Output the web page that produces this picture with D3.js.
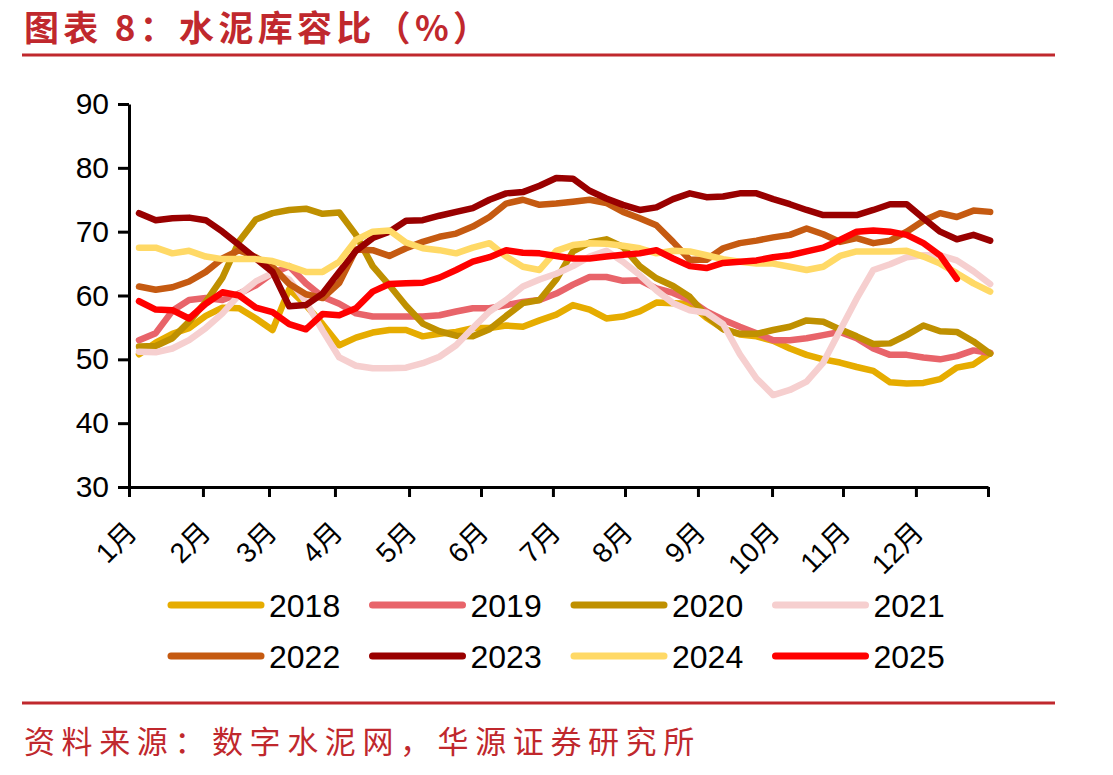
<!DOCTYPE html>
<html>
<head>
<meta charset="utf-8">
<script src="https://cdn.jsdelivr.net/npm/d3@7"></script>
<style>
  body { margin: 0; background: #fff; }
  svg { display: block; }
</style>
</head>
<body>
<svg id="chart" width="1113" height="775"></svg>
<script>
// weekly stock ratio, week 1 .. 52
const years = ["2018", "2019", "2020", "2021", "2022", "2023", "2024", "2025"]
const colors = ["#E6AC00", "#E8646A", "#BF9000", "#F6CFCF", "#C55A11", "#990000", "#FFD966", "#FF0000"]

const v2018 = [50.8, 52.6, 54.0, 54.9, 56.8, 58.1, 58.0, 56.4, 54.6, 61.0, 58.5, 55.5, 52.2, 53.4, 54.2, 54.6, 54.6, 53.6, 54.0, 54.3, 54.9, 54.9, 55.3, 55.1, 56.1, 57.0, 58.5, 57.8, 56.4, 56.7, 57.5, 58.9, 58.8, 58.7, 56.5, 54.8, 53.9, 53.6, 52.9, 51.7, 50.7, 50.0, 49.5, 48.8, 48.2, 46.4, 46.2, 46.3, 46.9, 48.7, 49.2, 51.0]
const v2019 = [53.0, 54.1, 57.6, 59.3, 59.6, 59.3, 60.3, 61.6, 63.5, 64.6, 61.9, 59.8, 58.7, 57.2, 56.7, 56.7, 56.7, 56.7, 56.9, 57.5, 58.0, 58.0, 58.5, 59.0, 59.3, 60.3, 61.7, 62.9, 62.9, 62.3, 62.4, 61.1, 60.4, 59.3, 57.5, 56.2, 55.1, 54.1, 53.0, 53.0, 53.3, 53.8, 54.3, 53.3, 51.7, 50.7, 50.7, 50.3, 50.0, 50.5, 51.4, 51.0]
const v2020 = [52.0, 52.1, 53.3, 55.9, 59.0, 62.8, 68.5, 71.9, 72.9, 73.4, 73.6, 72.8, 73.0, 69.5, 64.6, 61.6, 58.4, 55.6, 54.4, 53.7, 53.6, 54.7, 56.8, 58.8, 59.3, 62.5, 66.9, 68.3, 68.8, 67.6, 64.6, 62.7, 61.5, 59.8, 56.8, 54.7, 54.0, 54.0, 54.6, 55.1, 56.1, 55.9, 54.7, 53.6, 52.4, 52.5, 53.8, 55.3, 54.4, 54.3, 52.8, 50.9]
const v2021 = [51.2, 51.1, 51.7, 53.0, 54.9, 57.2, 60.1, 62.2, 63.5, 62.5, 59.0, 54.5, 50.3, 49.0, 48.6, 48.6, 48.7, 49.4, 50.4, 52.2, 54.9, 57.5, 59.3, 61.4, 62.5, 63.4, 64.6, 66.1, 67.0, 65.3, 63.2, 60.8, 58.8, 57.7, 57.3, 55.5, 50.8, 47.0, 44.4, 45.2, 46.5, 49.5, 54.5, 59.5, 64.0, 64.9, 66.0, 66.3, 66.3, 65.5, 63.8, 61.8]
const v2022 = [61.4, 60.9, 61.3, 62.2, 63.7, 65.8, 67.1, 66.0, 64.5, 61.8, 60.2, 59.6, 62.0, 67.2, 67.1, 66.2, 67.4, 68.4, 69.2, 69.7, 70.8, 72.3, 74.4, 75.0, 74.2, 74.4, 74.7, 75.0, 74.5, 73.1, 72.1, 71.0, 68.4, 65.6, 65.6, 67.4, 68.2, 68.6, 69.1, 69.5, 70.5, 69.6, 68.4, 69.0, 68.2, 68.6, 70.0, 71.7, 72.9, 72.3, 73.3, 73.1]
const v2023 = [72.9, 71.8, 72.1, 72.2, 71.8, 70.0, 67.9, 65.8, 63.7, 58.3, 58.5, 60.3, 63.7, 67.0, 69.0, 70.0, 71.7, 71.8, 72.5, 73.1, 73.7, 75.0, 76.0, 76.2, 77.2, 78.4, 78.3, 76.4, 75.2, 74.2, 73.4, 73.8, 75.1, 76.0, 75.4, 75.5, 76.0, 76.0, 75.1, 74.3, 73.4, 72.6, 72.6, 72.6, 73.4, 74.3, 74.3, 72.1, 70.0, 68.8, 69.5, 68.6]
const v2024 = [67.5, 67.5, 66.6, 67.0, 66.1, 65.7, 65.7, 65.7, 65.4, 64.6, 63.7, 63.7, 65.3, 68.7, 70.0, 70.2, 68.3, 67.4, 67.1, 66.6, 67.5, 68.2, 66.1, 64.5, 64.0, 67.0, 67.9, 68.2, 68.1, 67.8, 67.4, 66.6, 67.0, 66.9, 66.3, 65.7, 65.3, 65.0, 65.0, 64.5, 64.0, 64.5, 66.2, 66.9, 66.9, 66.9, 67.0, 66.1, 65.0, 63.5, 61.9, 60.6]
const v2025 = [59.1, 57.8, 57.7, 56.4, 58.7, 60.5, 60.0, 58.1, 57.4, 55.5, 54.7, 57.1, 56.9, 58.0, 60.6, 61.8, 61.9, 62.0, 62.8, 64.0, 65.3, 66.0, 67.1, 66.7, 66.6, 66.2, 65.8, 65.8, 66.1, 66.4, 66.6, 67.1, 65.8, 64.6, 64.3, 65.1, 65.3, 65.5, 66.0, 66.3, 66.9, 67.5, 68.7, 70.0, 70.2, 70.0, 69.5, 68.2, 66.3, 62.6]

const seriesValues = [v2018, v2019, v2020, v2021, v2022, v2023, v2024, v2025]

// month boundaries, in weeks
const monthTicks = [-0.6, 3.83, 7.79, 11.74, 16.18, 20.49, 24.8, 29.12, 33.49, 37.93, 42.18, 46.55, 50.87]
const monthLabels = ["1月", "2月", "3月", "4月", "5月", "6月", "7月", "8月", "9月", "10月", "11月", "12月"]
const yTicks = [30, 40, 50, 60, 70, 80, 90]

const RED = "#C0282D"
const LATIN = "'Liberation Sans', Arial, 'Noto Sans CJK SC', sans-serif"
const CJK = "'Noto Sans CJK SC', sans-serif"

let svg = d3.select("#chart")

let x = d3.scaleLinear().domain([monthTicks[0], monthTicks[monthTicks.length - 1]]).range([129, 988]),
    y = d3.scaleLinear().domain([30, 90]).range([487, 104])

// title and rules
svg.append("text")
    .text("图表 8：水泥库容比（%）")
    .attr("x", 24)
    .attr("y", 41)
    .style("font-family", CJK)
    .style("font-size", "35px")
    .style("font-weight", "bold")
    .style("letter-spacing", "4.3px")
    .style("fill", RED)

svg.append("line")
    .attr("x1", 22).attr("x2", 1055)
    .attr("y1", 55).attr("y2", 55)
    .style("stroke", RED)
    .style("stroke-width", 3)

svg.append("line")
    .attr("x1", 22).attr("x2", 1055)
    .attr("y1", 703).attr("y2", 703)
    .style("stroke", RED)
    .style("stroke-width", 3)

svg.append("text")
    .text("资料来源：数字水泥网，华源证券研究所")
    .attr("x", 24)
    .attr("y", 753)
    .style("font-family", CJK)
    .style("font-size", "31px")
    .style("letter-spacing", "6.6px")
    .style("fill", RED)

// axes
let yAxis = svg.append("g")
    .attr("transform", `translate(${129}, 0)`)
    .call(d3.axisLeft(y).tickValues(yTicks).tickSize(11).tickSizeOuter(0).tickPadding(9))

let xAxis = svg.append("g")
    .attr("transform", `translate(0, ${487})`)
    .call(d3.axisBottom(x).tickValues(monthTicks).tickSize(10).tickSizeOuter(0)
        .tickFormat((d, i) => monthLabels[i] || ""))

svg.selectAll(".domain, .tick line")
    .style("stroke", "#000")
    .style("stroke-width", 3)

yAxis.selectAll(".tick text")
    .style("font-family", LATIN)
    .style("font-size", "30px")
    .style("fill", "#000")

xAxis.selectAll(".tick text")
    .attr("text-anchor", "end")
    .attr("transform", "translate(2, 40) rotate(-45)")
    .attr("y", 0)
    .attr("dy", "0.35em")
    .style("font-family", LATIN)
    .style("font-size", "28px")
    .style("fill", "#000")

// series
let line = d3.line()
    .x((d, i) => x(i))
    .y(d => y(d))

svg.append("g")
    .selectAll("path")
    .data(seriesValues)
    .join("path")
    .attr("d", line)
    .style("fill", "none")
    .style("stroke", (d, i) => colors[i])
    .style("stroke-width", 6.5)
    .style("stroke-linejoin", "round")
    .style("stroke-linecap", "round")

// legend
let legend = svg.append("g")
    .selectAll("g")
    .data(years)
    .join("g")
    .attr("transform", (d, i) => `translate(${171 + (i % 4) * 201.5}, ${605 + Math.floor(i / 4) * 51})`)

legend.append("line")
    .attr("x1", 0).attr("x2", 90)
    .style("stroke", (d, i) => colors[i])
    .style("stroke-width", 7)
    .style("stroke-linecap", "round")

legend.append("text")
    .text(d => d)
    .attr("x", 98)
    .attr("y", 11.5)
    .style("font-family", LATIN)
    .style("font-size", "32px")
    .style("fill", "#000")
</script>
</body>
</html>
